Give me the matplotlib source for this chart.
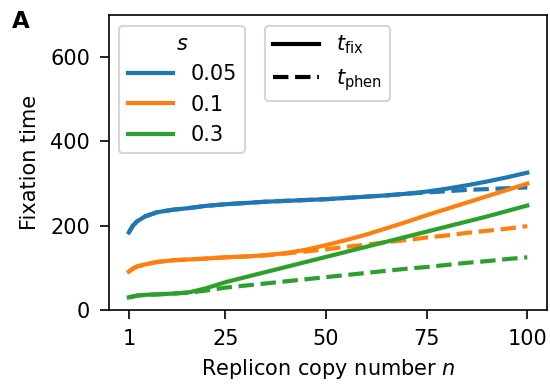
import numpy as np
from matplotlib import pyplot as plt
from matplotlib.lines import Line2D

# replicon copy number
n = [1, 2, 3, 5, 8, 12, 16, 20, 25, 30, 35, 40, 45, 50, 55, 60, 65, 70, 75, 80, 85, 90, 95, 100]

# fixation time (solid) and phenotypic time (dashed) for each selection strength s
s_labels = ['0.05', '0.1', '0.3']

tfix_005 = [184, 200, 210, 222, 232, 238, 242, 247, 251, 254, 257, 259, 261, 263, 266, 269, 272, 276, 281, 288, 296, 305, 315, 326]
tphen_005 = [184, 200, 210, 222, 232, 238, 242, 247, 251, 254, 257, 259, 261, 263, 266, 269, 272, 276, 279, 282, 285, 287, 289, 291]

tfix_01 = [91, 98, 103, 108, 114, 118, 120, 122, 125, 127, 130, 135, 143, 154, 166, 179, 194, 209, 225, 240, 255, 270, 285, 300]
tphen_01 = [91, 98, 103, 108, 114, 118, 120, 122, 125, 127, 130, 134, 139, 144, 150, 155, 161, 166, 172, 177, 183, 188, 193, 199]

tfix_03 = [30, 32, 34, 36, 37, 39, 42, 51, 66, 78, 90, 102, 114, 126, 138, 150, 162, 174, 186, 198, 210, 222, 235, 248]
tphen_03 = [30, 32, 34, 36, 37, 39, 41, 46, 53, 58, 63, 68, 73, 78, 83, 88, 93, 98, 102, 107, 112, 116, 121, 125]

tfix = [tfix_005, tfix_01, tfix_03]
tphen = [tphen_005, tphen_01, tphen_03]
colors = ['#1f77b4', '#ff7f0e', '#2ca02c']

fig = plt.figure(figsize=(5.5 / 1.5, 3.87 / 1.5), dpi=150)
ax = fig.add_axes([0.198, 0.199, 0.797, 0.762])

for fx, ph, c in zip(tfix, tphen, colors):
    ax.plot(n, ph, color=c, lw=2, ls='--')
    ax.plot(n, fx, color=c, lw=2)

ax.set_ylim(0, 700)
ax.set_xticks([1, 25, 50, 75, 100])
ax.set_yticks([0, 200, 400, 600])
ax.tick_params(length=4.5, pad=4.5)
ax.set_xlabel('Replicon copy number $n$')
ax.set_ylabel('Fixation time')
ax.yaxis.set_label_coords(-0.158, 0.5)

# legend for s values
h1 = [Line2D([], [], color=c, lw=2) for c in colors]
leg1 = ax.legend(h1, s_labels, title='$s$', loc='upper left', handlelength=2.2)
ax.add_artist(leg1)

# legend for line styles
h2 = [Line2D([], [], color='k', lw=2),
      Line2D([], [], color='k', lw=2, ls='--')]
ax.legend(h2, ['$t_\\mathrm{fix}$', '$t_\\mathrm{phen}$'], loc='upper left',
          bbox_to_anchor=(0.332, 1.0), handlelength=2.2)

fig.text(0.022, 0.975, 'A', fontsize=11, fontweight='bold', va='top')

plt.savefig('out.png')
